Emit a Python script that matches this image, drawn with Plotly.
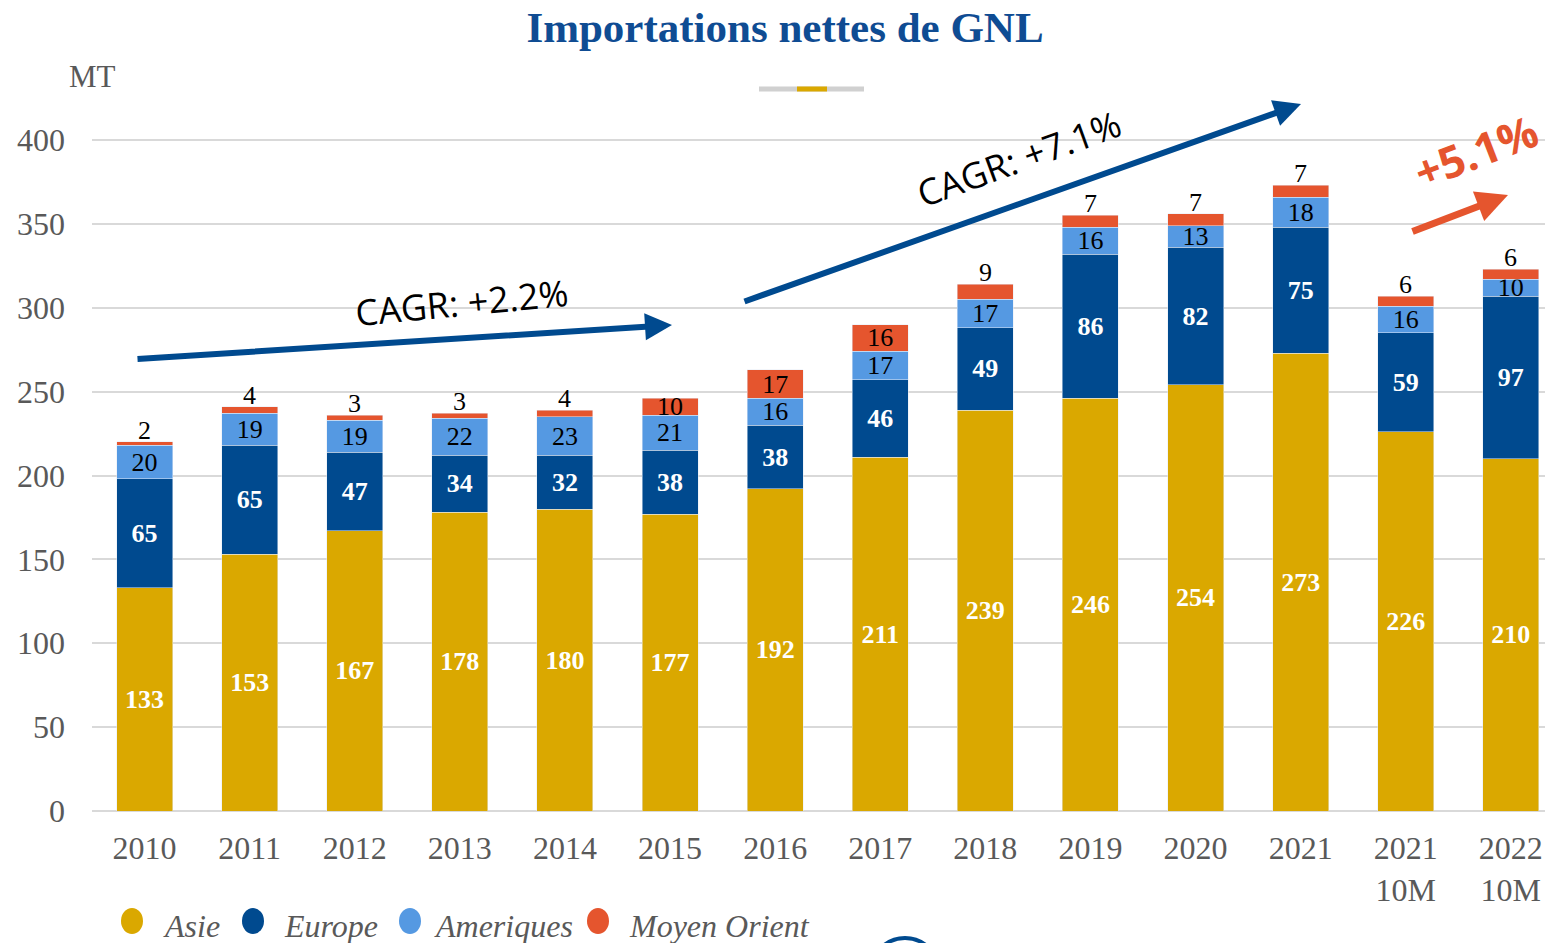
import plotly.graph_objects as go

categories = ["2010", "2011", "2012", "2013", "2014", "2015", "2016", "2017",
              "2018", "2019", "2020", "2021", "2021 10M", "2022 10M"]
tick_labels = ["2010", "2011", "2012", "2013", "2014", "2015", "2016", "2017",
               "2018", "2019", "2020", "2021", "2021<br>10M", "2022<br>10M"]
asie = [133, 153, 167, 178, 180, 177, 192, 211, 239, 246, 254, 273, 226, 210]
europe = [65, 65, 47, 34, 32, 38, 38, 46, 49, 86, 82, 75, 59, 97]
ameriques = [20, 19, 19, 22, 23, 21, 16, 17, 17, 16, 13, 18, 16, 10]
moyen_orient = [2, 4, 3, 3, 4, 10, 17, 16, 9, 7, 7, 7, 6, 6]

C_ASIE = "#DAA800"
C_EUR = "#004A8F"
C_AME = "#5599E2"
C_MO = "#E5552E"
GREY = "#595959"
SERIF = "Liberation Serif"
SANS = "Open Sans"

W, H = 1545, 943
L, R, T, B = 92, 0, 60, 132
PW, PH = W - L - R, H - T - B


def px(X):
    return (X - L) / PW


def py(Y):
    return (H - B - Y) / PH


fig = go.Figure()

common = dict(textangle=0, constraintext="none", insidetextanchor="middle",
              showlegend=False, hoverinfo="x+y+name")

fig.add_trace(go.Bar(x=categories, y=asie, name="Asie", marker_color=C_ASIE,
                     text=[str(v) for v in asie], textposition="inside",
                     insidetextfont=dict(family=SERIF, size=26, color="white", weight="bold"),
                     **common))
fig.add_trace(go.Bar(x=categories, y=europe, name="Europe", marker_color=C_EUR,
                     text=[str(v) for v in europe], textposition="inside",
                     insidetextfont=dict(family=SERIF, size=26, color="white", weight="bold"),
                     **common))
fig.add_trace(go.Bar(x=categories, y=ameriques, name="Ameriques", marker_color=C_AME,
                     text=[str(v) for v in ameriques], textposition="inside",
                     insidetextfont=dict(family=SERIF, size=26, color="black"),
                     **common))
fig.add_trace(go.Bar(x=categories, y=moyen_orient, name="Moyen Orient", marker_color=C_MO,
                     text=[str(v) if v >= 10 else "" for v in moyen_orient],
                     textposition="inside",
                     insidetextfont=dict(family=SERIF, size=26, color="black"),
                     cliponaxis=False, **common))

annotations = []
shapes = []

# Small Moyen Orient values written just above the stacks (x given as category index)
for i, c in enumerate(categories):
    if moyen_orient[i] < 10:
        total = asie[i] + europe[i] + ameriques[i] + moyen_orient[i]
        annotations.append(dict(text=str(moyen_orient[i]), x=i, y=total, xref="x", yref="y",
                                xanchor="center", yanchor="bottom", yshift=-5,
                                showarrow=False,
                                font=dict(family=SERIF, size=26, color="black")))

# "MT" unit label
annotations.append(dict(text="MT", xref="paper", yref="paper", x=px(92), y=py(76),
                        xanchor="center", yanchor="middle", showarrow=False,
                        font=dict(family=SERIF, size=31, color=GREY)))

# Arrows with CAGR texts
def arrow(head, tail, color, width):
    return dict(x=px(head[0]), y=py(head[1]), xref="paper", yref="paper",
                ax=tail[0] - head[0], ay=tail[1] - head[1], axref="pixel", ayref="pixel",
                showarrow=True, arrowhead=2, arrowsize=0.9, arrowwidth=width,
                arrowcolor=color, text="", standoff=0)

annotations.append(arrow((672, 325), (136, 359), C_EUR, 6))
annotations.append(arrow((1301, 104), (743, 302), C_EUR, 6))
annotations.append(arrow((1508, 195), (1411, 232), C_MO, 7))

annotations.append(dict(text="CAGR: +2.2%", xref="paper", yref="paper", x=px(462), y=py(302),
                        xanchor="center", yanchor="middle", showarrow=False, textangle=-5.5,
                        font=dict(family=SANS, size=36, color="black")))
annotations.append(dict(text="CAGR: +7.1%", xref="paper", yref="paper", x=px(1019), y=py(158),
                        xanchor="center", yanchor="middle", showarrow=False, textangle=-20,
                        font=dict(family=SANS, size=36, color="black")))
annotations.append(dict(text="+5.1%", xref="paper", yref="paper", x=px(1476), y=py(151),
                        xanchor="center", yanchor="middle", showarrow=False, textangle=-21,
                        font=dict(family=SANS, size=44, color=C_MO, weight="bold")))

# Decorative mini bar under title
shapes.append(dict(type="line", xref="paper", yref="paper", x0=px(759), x1=px(864),
                   y0=py(89), y1=py(89), line=dict(color="#D0D0D0", width=5)))
shapes.append(dict(type="line", xref="paper", yref="paper", x0=px(797), x1=px(827),
                   y0=py(89), y1=py(89), line=dict(color=C_ASIE, width=5)))

# Manual legend
legend_items = [("Asie", C_ASIE, 132, 161), ("Europe", C_EUR, 253, 282),
                ("Ameriques", C_AME, 410, 432), ("Moyen Orient", C_MO, 598, 627)]
for name, col, cx, tx in legend_items:
    shapes.append(dict(type="circle", xref="paper", yref="paper", xsizemode="pixel",
                       ysizemode="pixel", xanchor=px(cx), yanchor=py(921),
                       x0=-11, x1=11, y0=-13, y1=13, fillcolor=col, line=dict(width=0)))
    annotations.append(dict(text=name, xref="paper", yref="paper", x=px(tx), y=py(926),
                            xanchor="left", yanchor="middle", showarrow=False,
                            font=dict(family=SERIF, size=32, color=GREY, style="italic")))

# Partial logo ring at bottom
shapes.append(dict(type="circle", xref="paper", yref="paper", xsizemode="pixel",
                   ysizemode="pixel", xanchor=px(905), yanchor=py(972),
                   x0=-34, x1=34, y0=-34, y1=34, line=dict(color=C_EUR, width=4)))

fig.update_layout(
    width=W, height=H,
    margin=dict(l=L, r=R, t=T, b=B, pad=0),
    barmode="stack", bargap=0.467,
    paper_bgcolor="white", plot_bgcolor="white",
    title=dict(text="<b>Importations nettes de GNL</b>", xref="container", yref="container",
               x=785 / W, y=1 - 27 / H, xanchor="center", yanchor="middle",
               font=dict(family=SERIF, size=43, color="#0F4C93")),
    showlegend=False,
    annotations=annotations,
    shapes=shapes,
    xaxis=dict(range=[-0.5, 13.325], tickvals=categories, ticktext=tick_labels,
               tickfont=dict(family=SERIF, size=32, color=GREY), showgrid=False,
               showline=False, zeroline=False, ticks="", ticklabelstandoff=15),
    yaxis=dict(range=[0, PH / 1.6775], tickvals=list(range(0, 401, 50)),
               tickfont=dict(family=SERIF, size=32, color=GREY), showgrid=True,
               gridcolor="#D9D9D9", gridwidth=2, zeroline=True, zerolinecolor="#D9D9D9",
               zerolinewidth=2, showline=False, ticks="", ticklabelstandoff=26),
)

fig.write_html("out.html", config={"displayModeBar": False},
               post_script="document.body.style.margin='0';document.body.style.overflow='hidden';")
